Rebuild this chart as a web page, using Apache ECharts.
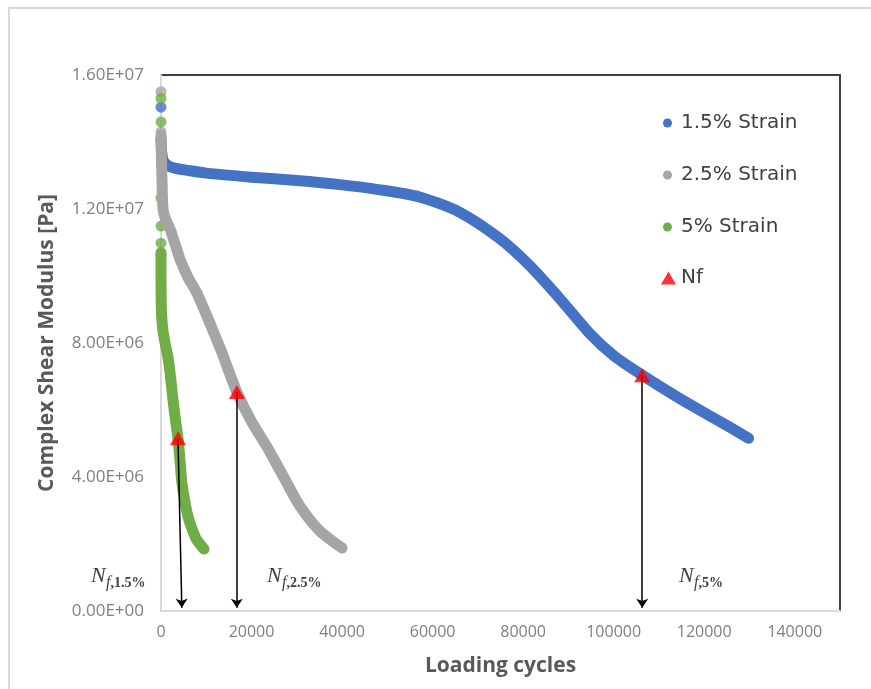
<!DOCTYPE html>
<html>
<head>
<meta charset="utf-8">
<script src="https://cdn.jsdelivr.net/npm/echarts@6/dist/echarts.min.js"></script>
<style>
  html, body { margin: 0; padding: 0; background: #ffffff; }
  #chart { width: 871px; height: 689px; }
</style>
</head>
<body>
<div id="chart"></div>
<script>
// Complex shear modulus [Pa] against loading cycles for three strain levels.
const strain15 = [
  [0, 1.41e7], [150, 1.37e7], [500, 1.345e7], [1500, 1.33e7], [3000, 1.322e7],
  [6000, 1.315e7], [10000, 1.307e7], [20000, 1.295e7], [30000, 1.285e7],
  [40000, 1.272e7], [48000, 1.258e7], [57100, 1.236e7], [65900, 1.191e7],
  [74700, 1.113e7], [81300, 1.033e7], [88000, 9.34e6], [94600, 8.3e6],
  [100100, 7.61e6], [106300, 7.04e6], [114400, 6.36e6], [122000, 5.77e6],
  [129800, 5.16e6]
];
const strain15Early = [[0, 1.504e7]];

const strain25 = [
  [0, 1.42e7], [100, 1.35e7], [250, 1.27e7], [440, 1.2e7], [1000, 1.17e7],
  [2000, 1.14e7], [3000, 1.1e7], [4200, 1.05e7], [6000, 9.95e6], [7900, 9.5e6],
  [10000, 8.85e6], [12000, 8.2e6], [13500, 7.7e6], [15000, 7.15e6],
  [16750, 6.54e6], [20000, 5.65e6], [23400, 4.9e6], [27300, 3.95e6],
  [30600, 3.15e6], [35000, 2.4e6], [40000, 1.88e6]
];
const strain25Early = [[0, 1.55e7], [0, 1.43e7]];

const strain5 = [
  [0, 1.07e7], [0, 1.0e7], [50, 9.2e6], [150, 8.8e6], [400, 8.4e6],
  [900, 8.0e6], [1500, 7.6e6], [2100, 7.0e6], [2650, 6.3e6], [3200, 5.7e6],
  [3750, 5.16e6], [4200, 4.5e6], [4600, 3.85e6], [5300, 3.25e6], [6000, 2.8e6],
  [7000, 2.4e6], [7900, 2.12e6], [9500, 1.85e6]
];
const strain5Early = [
  [0, 1.53e7], [0, 1.46e7], [0, 1.233e7], [0, 1.149e7], [0, 1.098e7], [0, 1.066e7]
];

// Failure points (Nf) and where their arrows meet the cycle axis
const failurePoints = [[3750, 5.16e6], [16750, 6.54e6], [106300, 7.04e6]];
const arrowTips = [[4600, 1e5], [16750, 1e5], [106300, 1e5]];
const failureTags = ['1.5%', '2.5%', '5%'];

const xMin = 0, xMax = 150000, xStep = 20000;
const yMin = 0, yMax = 1.6e7, yStep = 4e6;

const BLUE = '#4472c4', GRAY = '#a5a5a5', GREEN = '#70ad47', RED = '#ff0000';
const BAND = 11;

function sci(v) {
  if (v === 0) return '0.00E+00';
  const [m, e] = v.toExponential(2).split('e');
  const n = parseInt(e, 10);
  const sign = n < 0 ? '-' : '+';
  return m + 'E' + sign + String(Math.abs(n)).padStart(2, '0');
}

function band(name, data, color) {
  return {
    name, type: 'line', data, smooth: 0.25, showSymbol: false,
    color, itemStyle: { color },
    lineStyle: { color, width: BAND, cap: 'round', join: 'round' },
    silent: true, animation: false
  };
}
function dots(name, data, color) {
  return {
    name, type: 'scatter', data, symbol: 'circle', symbolSize: BAND,
    color, itemStyle: { color }, silent: true, animation: false
  };
}

function subLabel(x, y, tag) {
  return {
    type: 'group', x, y,
    children: [
      { type: 'text', x: 0, y: 0,
        style: { text: 'N', font: 'italic 22px "Liberation Serif"', fill: '#404040', verticalAlign: 'top' } },
      { type: 'text', x: 15, y: 10,
        style: {
          text: '{f|f}{r|,' + tag + '}', fill: '#404040', verticalAlign: 'top',
          rich: {
            f: { fontStyle: 'italic', fontFamily: 'Liberation Serif', fontSize: 16, fill: '#404040' },
            r: { fontFamily: 'Liberation Serif', fontSize: 14, fontWeight: 'bold', fill: '#404040' }
          }
        } }
    ]
  };
}

const chart = echarts.init(document.getElementById('chart'), null, { renderer: 'canvas' });

chart.setOption({
  backgroundColor: '#ffffff',
  animation: false,
  textStyle: { fontFamily: '"Open Sans", sans-serif' },
  grid: {
    left: 161, top: 75, right: 31, bottom: 78,
    show: true, borderColor: '#404040', borderWidth: 2, backgroundColor: 'transparent'
  },
  legend: [
    {
      data: ['1.5% Strain', '2.5% Strain', '5% Strain'],
      orient: 'vertical', left: 658, top: 108,
      icon: 'circle', itemWidth: 9, itemHeight: 9, itemGap: 32,
      textStyle: { fontFamily: '"DejaVu Sans"', fontSize: 20, color: '#404040', padding: [0, 0, 0, 4] },
      selectedMode: false
    },
    {
      data: ['Nf'],
      orient: 'vertical', left: 656, top: 263,
      icon: 'triangle', itemWidth: 15, itemHeight: 13,
      textStyle: { fontFamily: '"DejaVu Sans"', fontSize: 20, color: '#404040' },
      selectedMode: false
    }
  ],
  xAxis: {
    type: 'value', min: xMin, max: xMax, interval: xStep,
    name: 'Loading cycles', nameLocation: 'middle', nameGap: 45,
    nameTextStyle: { fontFamily: '"Open Sans"', fontWeight: 'bold', fontSize: 21, color: '#595959' },
    axisLine: { show: true, lineStyle: { color: '#d9d9d9', width: 2 } },
    axisTick: { show: false },
    splitLine: { show: false },
    axisLabel: {
      showMaxLabel: false, margin: 13, fontFamily: '"Open Sans"', fontSize: 16, color: '#7f7f7f',
      formatter: v => String(v)
    }
  },
  yAxis: {
    type: 'value', min: yMin, max: yMax, interval: yStep,
    name: 'Complex Shear Modulus [Pa]', nameLocation: 'middle', nameGap: 103,
    nameTextStyle: { fontFamily: '"Open Sans"', fontWeight: 'bold', fontSize: 21, color: '#595959' },
    axisLine: { show: true, lineStyle: { color: '#d9d9d9', width: 2 } },
    axisTick: { show: false },
    splitLine: { show: false },
    axisLabel: { margin: 17, fontFamily: '"Open Sans"', fontSize: 17, color: '#7f7f7f', formatter: sci }
  },
  series: [
    band('1.5% Strain', strain15, BLUE),
    dots('1.5% Strain', strain15Early, BLUE),
    band('2.5% Strain', strain25, GRAY),
    dots('2.5% Strain', strain25Early, GRAY),
    band('5% Strain', strain5, GREEN),
    dots('5% Strain', strain5Early, GREEN),
    {
      name: 'Nf', type: 'scatter', data: failurePoints,
      symbol: 'triangle', symbolSize: [16, 14], z: 5,
      color: RED, itemStyle: { color: RED }, silent: true, animation: false,
      markLine: {
        silent: true, animation: false,
        symbol: ['none', 'arrow'], symbolSize: 9,
        label: { show: false },
        lineStyle: { color: '#000000', width: 1.5, type: 'solid' },
        data: failurePoints.map((p, i) => [{ coord: p }, { coord: arrowTips[i] }])
      }
    }
  ],
  graphic: [
    {
      type: 'rect', silent: true, z: -10,
      shape: { x: 9, y: 8, width: 900, height: 720 },
      style: { fill: 'none', stroke: '#d9d9d9', lineWidth: 2 }
    },
    subLabel(91, 565, failureTags[0]),
    subLabel(267, 565, failureTags[1]),
    subLabel(679, 565, failureTags[2])
  ]
});
</script>
</body>
</html>
